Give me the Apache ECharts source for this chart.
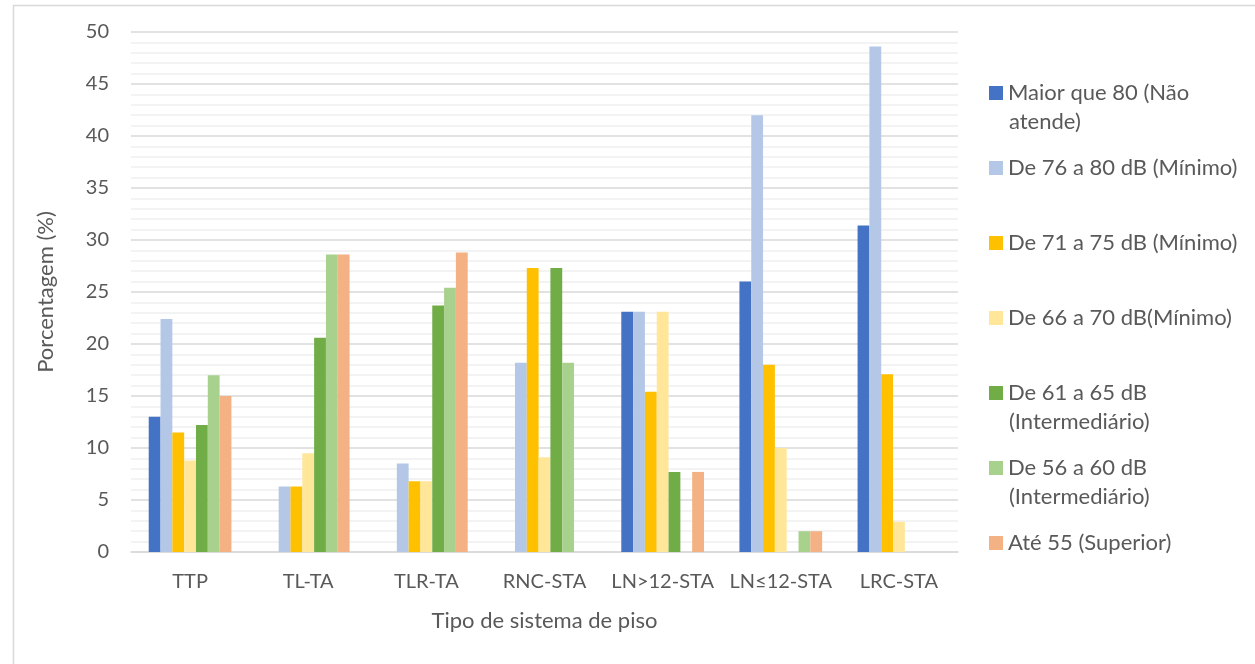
<!DOCTYPE html>
<html>
<head>
<meta charset="utf-8">
<script src="https://cdn.jsdelivr.net/npm/echarts@6/dist/echarts.min.js"></script>
<style>
html,body{margin:0;padding:0;background:#fff;}
#c{width:1255px;height:664px;}
</style>
</head>
<body>
<div id="c"></div>
<script>
const categories = ['TTP','TL-TA','TLR-TA','RNC-STA','LN>12-STA','LN\u226412-STA','LRC-STA'];
const seriesNames = [
  'Maior que 80 (N\u00e3o\natende)',
  'De 76 a 80 dB (M\u00ednimo)',
  'De 71 a 75 dB (M\u00ednimo)',
  'De 66 a 70 dB(M\u00ednimo)',
  'De 61 a 65 dB\n(Intermedi\u00e1rio)',
  'De 56 a 60 dB\n(Intermedi\u00e1rio)',
  'At\u00e9 55 (Superior)'
];
const maior80   = [13.0, 0, 0, 0, 23.1, 26.0, 31.4];
const de76a80   = [22.4, 6.3, 8.5, 18.2, 23.1, 42.0, 48.6];
const de71a75   = [11.5, 6.3, 6.8, 27.3, 15.4, 18.0, 17.1];
const de66a70   = [8.8, 9.5, 6.8, 9.1, 23.1, 10.0, 2.9];
const de61a65   = [12.2, 20.6, 23.7, 27.3, 7.7, 0, 0];
const de56a60   = [17.0, 28.6, 25.4, 18.2, 0, 2.0, 0];
const ate55     = [15.0, 28.6, 28.8, 0, 7.7, 2.0, 0];
const yTicks = [0,5,10,15,20,25,30,35,40,45,50];

const seriesData = [maior80, de76a80, de71a75, de66a70, de61a65, de56a60, ate55];
const colors = ['#4472C4','#B4C7E7','#FFC000','#FFE699','#70AD47','#A9D18E','#F4B183'];
const legendCenters = [93,168,243,318,393,468,543];
const LH = 29;
const FONT = 'Lato';
const TXT = '#595959';

const legends = seriesNames.map((n, i) => ({
  data: [n],
  orient: 'vertical',
  left: 989,
  top: legendCenters[i] - LH / 2,
  padding: 0,
  itemWidth: 14,
  itemHeight: 14,
  itemGap: 0,
  icon: 'rect',
  selectedMode: false,
  formatter: name => name.split('\n')[0],
  textStyle: {fontFamily: FONT, fontSize: 22, color: TXT, lineHeight: LH}
}));

// continuation lines of the two-line legend names
const legendExtra = [];
seriesNames.forEach((n, i) => {
  const parts = n.split('\n');
  for (let k = 1; k < parts.length; k++) {
    legendExtra.push({
      type: 'text', left: 1009, top: legendCenters[i] + k * LH - LH / 2, silent: true,
      style: {text: parts[k], font: '22px ' + FONT, fill: TXT, lineHeight: LH, verticalAlign: 'top'}
    });
  }
});

const chart = echarts.init(document.getElementById('c'), null, {renderer: 'canvas'});
chart.setOption({
  animation: false,
  color: colors,
  textStyle: {fontFamily: FONT},
  graphic: [{
    type: 'rect', left: 11, top: 3, silent: true,
    shape: {x: 0, y: 0, width: 1270, height: 700},
    style: {fill: 'none', stroke: '#d9d9d9', lineWidth: 1.5}
  }].concat(legendExtra),
  legend: legends,
  grid: {left: 131, right: 297, top: 32, bottom: 112},
  xAxis: {
    type: 'category',
    data: categories,
    name: 'Tipo de sistema de piso',
    nameLocation: 'middle',
    nameGap: 58,
    nameTextStyle: {fontFamily: FONT, fontSize: 22, color: TXT},
    axisLine: {show: true, lineStyle: {color: '#d9d9d9', width: 1.5}},
    axisTick: {show: false},
    axisLabel: {fontFamily: FONT, fontSize: 20, color: TXT, margin: 20, interval: 0}
  },
  yAxis: {
    type: 'value',
    min: yTicks[0],
    max: yTicks[yTicks.length - 1],
    interval: 5,
    name: 'Porcentagem (%)',
    nameLocation: 'middle',
    nameGap: 74,
    nameTextStyle: {fontFamily: FONT, fontSize: 22, color: TXT},
    axisLine: {show: false},
    axisTick: {show: false},
    axisLabel: {fontFamily: FONT, fontSize: 20, color: TXT, margin: 22},
    splitLine: {show: true, lineStyle: {color: '#d9d9d9', width: 1.5}},
    minorTick: {show: false, splitNumber: 5},
    minorSplitLine: {show: true, lineStyle: {color: '#efefef', width: 1.5}}
  },
  series: seriesNames.map((n, i) => ({
    name: n,
    type: 'bar',
    data: seriesData[i],
    barGap: '0%',
    barCategoryGap: '30%',
    itemStyle: {color: colors[i]}
  }))
});
</script>
</body>
</html>
